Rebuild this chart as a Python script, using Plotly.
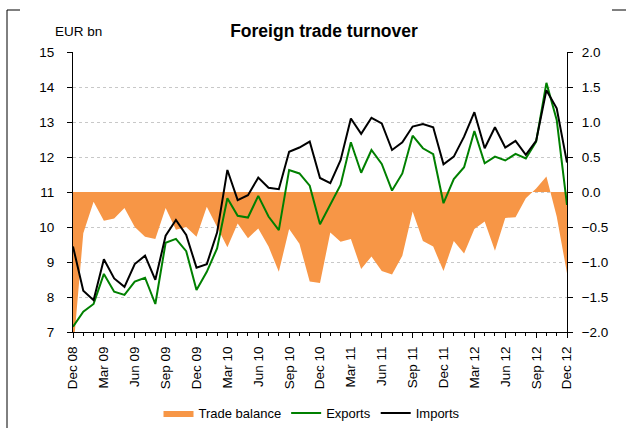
import plotly.graph_objects as go
import pandas as pd

months = list(pd.period_range("2008-12", "2012-12", freq="M").strftime("%b %y"))

exports = [7.15, 7.58, 7.80, 8.66, 8.15, 8.06, 8.44, 8.55, 7.80, 9.55, 9.66, 9.31, 8.20,
           8.72, 9.39, 10.82, 10.32, 10.27, 10.89, 10.30, 9.91, 11.63, 11.53, 11.18, 10.08,
           10.63, 11.20, 12.42, 11.55, 12.20, 11.80, 11.04, 11.53, 12.61, 12.25, 12.08, 10.68,
           11.37, 11.71, 12.74, 11.82, 12.01, 11.90, 12.09, 11.96, 12.44, 14.12, 13.06, 10.63]

imports = [9.44, 8.18, 7.91, 9.08, 8.53, 8.29, 8.94, 9.18, 8.49, 9.75, 10.20, 9.77, 8.84,
           8.94, 9.84, 11.63, 10.77, 10.91, 11.41, 11.12, 11.08, 12.15, 12.27, 12.44, 11.40,
           11.25, 11.91, 13.10, 12.66, 13.12, 12.96, 12.20, 12.42, 12.87, 12.94, 12.85, 11.79,
           12.01, 12.58, 13.28, 12.25, 12.85, 12.27, 12.46, 12.06, 12.46, 13.91, 13.39, 11.84]

trade_balance = [-2.30, -0.59, -0.14, -0.41, -0.38, -0.23, -0.50, -0.64, -0.67, -0.23, -0.54, -0.50, -0.64,
                 -0.21, -0.50, -0.79, -0.45, -0.66, -0.52, -0.78, -1.14, -0.53, -0.74, -1.28, -1.30,
                 -0.58, -0.71, -0.67, -1.10, -0.92, -1.13, -1.18, -0.91, -0.28, -0.70, -0.78, -1.13,
                 -0.70, -0.88, -0.53, -0.42, -0.84, -0.37, -0.36, -0.09, 0.05, 0.22, -0.35, -1.16]

left_ticks = [7, 8, 9, 10, 11, 12, 13, 14, 15]
right_ticks = [-2.0, -1.5, -1.0, -0.5, 0.0, 0.5, 1.0, 1.5, 2.0]

idx = list(range(len(months)))
label_idx = idx[::3]
label_text = [months[i] for i in label_idx]

FONT = "Liberation Sans Narrow, Arial Narrow, Liberation Sans, Arial, sans-serif"

fig = go.Figure()
fig.add_trace(go.Scatter(x=idx, y=trade_balance, name="Trade balance", mode="lines",
                         fill="tozeroy", fillcolor="#F79646",
                         line=dict(width=0, color="#F79646"), yaxis="y"))
fig.add_trace(go.Scatter(x=idx, y=exports, name="Exports", mode="lines",
                         line=dict(width=2, color="#008000"), yaxis="y2"))
fig.add_trace(go.Scatter(x=idx, y=imports, name="Imports", mode="lines",
                         line=dict(width=2, color="#000000"), yaxis="y2"))

fig.update_layout(
    width=626, height=428,
    margin=dict(l=73, r=59, t=52, b=96, autoexpand=False),
    paper_bgcolor="white", plot_bgcolor="white",
    font=dict(family=FONT, size=13, color="black"),
    title=dict(text="<b>Foreign trade turnover</b>", x=324/626, xref="container", xanchor="center",
               y=1-31/428, yref="container", yanchor="middle",
               font=dict(family="Liberation Sans, Arial, sans-serif", size=17.5, color="black")),
    xaxis=dict(range=[0, 48], tickmode="array", tickvals=label_idx, ticktext=label_text,
               tickangle=-90, ticks="outside", ticklen=5, tickcolor="black",
               tickfont=dict(size=13.5), ticklabelstandoff=3,
               showline=True, linecolor="black", linewidth=1, showgrid=False, zeroline=False,
               minor=dict(dtick=1, tick0=0, ticks="outside", ticklen=3, tickcolor="black", showgrid=False)),
    yaxis=dict(range=[-2, 2], side="right", tickmode="array", tickvals=right_ticks,
               tickformat=".1f", ticks="outside", ticklen=5, tickcolor="black",
               tickfont=dict(size=13.5), ticklabelstandoff=6,
               showline=True, linecolor="black", linewidth=1, zeroline=False,
               showgrid=True, gridcolor="#c8c8c8", griddash="dot", gridwidth=1),
    yaxis2=dict(range=[7, 15], side="left", overlaying="y", tickmode="array", tickvals=left_ticks,
                ticks="outside", ticklen=5, tickcolor="black",
                tickfont=dict(size=13.5), ticklabelstandoff=10,
                showline=True, linecolor="black", linewidth=1, zeroline=False, showgrid=False),
    legend=dict(orientation="h", x=(312-73)/494, xanchor="center", y=(332-413)/280, yanchor="middle",
                font=dict(family=FONT, size=13), itemwidth=30, bgcolor="rgba(0,0,0,0)"),
    annotations=[dict(text="EUR bn", xref="paper", yref="paper", x=(53-73)/494, y=(332-31)/280,
                      xanchor="left", yanchor="middle", showarrow=False,
                      font=dict(family=FONT, size=13.5))],
    shapes=[
        dict(type="line", xref="paper", yref="paper", x0=(7-73)/494, x1=(7-73)/494,
             y0=(332-10)/280, y1=(332-428)/280, line=dict(color="black", width=1)),
        dict(type="line", xref="paper", yref="paper", x0=(7-73)/494, x1=(20-73)/494,
             y0=(332-10)/280, y1=(332-10)/280, line=dict(color="black", width=1)),
        dict(type="line", xref="paper", yref="paper", x0=(612-73)/494, x1=(626-73)/494,
             y0=(332-10)/280, y1=(332-10)/280, line=dict(color="black", width=1)),
    ],
    showlegend=True,
)

fig.write_html("out.html", config={"displayModeBar": False},
               post_script="document.body.style.margin='0';")
